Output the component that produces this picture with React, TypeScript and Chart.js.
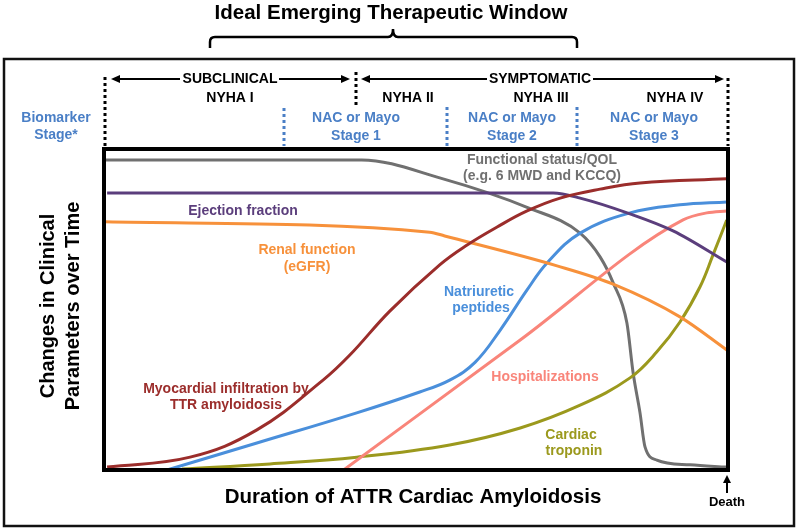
import React, { useEffect, useRef } from "react";
import { Chart, registerables } from "chart.js";

Chart.register(...registerables);

// ---- Data (x: disease duration 0-100, y: relative level 0-100) ----
const functionalX = [0, 41.3, 53.8, 68.1, 76.3, 79.5, 81.6, 83.8, 84.8, 85.9, 86.7, 88.6, 93.9, 99.8];
const functionalY = [96.6, 96.6, 91.0, 81.6, 73.8, 66.4, 58.3, 45.8, 30.2, 17.8, 7.2, 3.1, 1.6, 0.9];

const ejectionX = [0.5, 72.0, 76.3, 84.3, 91.2, 99.8];
const ejectionY = [86.3, 86.3, 84.7, 79.8, 74.5, 64.8];

const renalX = [0.2, 52.2, 54.6, 72.6, 81.6, 92.3, 99.8];
const renalY = [77.3, 74.1, 72.9, 63.6, 57.9, 47.7, 37.4];

const myocardialX = [0.5, 13.8, 24.5, 35.1, 39.4, 45.8, 53.8, 58.2, 63.0, 67.8, 73.1, 79.5, 85.9, 99.8];
const myocardialY = [0.9, 4.0, 12.5, 28.0, 35.8, 49.5, 63.9, 70.1, 75.7, 80.7, 84.7, 87.5, 89.4, 90.7];

const natriureticX = [10.1, 24.5, 40.5, 50.6, 55.4, 59.5, 63.5, 67.8, 71.0, 76.3, 84.3, 92.3, 99.8];
const natriureticY = [0, 8.4, 17.8, 24.3, 28.0, 33.6, 43.6, 56.1, 64.5, 73.8, 80.1, 82.6, 83.5];

const hospitalX = [38.4, 66.7, 92.8, 96.6, 99.8];
const hospitalY = [0, 40.5, 77.9, 80.1, 80.7];

const troponinX = [12.5, 26.6, 40.5, 55.4, 66.7, 76.3, 84.3, 88.6, 92.3, 95.5, 97.6, 99.8];
const troponinY = [0.3, 1.9, 4.0, 7.8, 13.1, 20.2, 28.7, 36.8, 46.1, 57.0, 67.0, 77.9];

const seriesNames = [
  "Functional status/QOL",
  "Ejection fraction",
  "Renal function (eGFR)",
  "Myocardial infiltration by TTR amyloidosis",
  "Natriuretic peptides",
  "Hospitalizations",
  "Cardiac troponin",
];

const COLORS = {
  gray: "#707070",
  purple: "#5b3e7c",
  orange: "#f7913b",
  red: "#9b2d2b",
  blue: "#4a8fdb",
  salmon: "#f9857a",
  olive: "#9b991d",
  stage: "#4a7fc6",
};

const zip = (xs: number[], ys: number[]) => xs.map((x, i) => ({ x, y: ys[i] }));

const FONT = (size: number) => `bold ${size}px "Liberation Sans", Arial, sans-serif`;

const annotationPlugin = {
  id: "annotations",
  afterDraw(chart: any) {
    const ctx: CanvasRenderingContext2D = chart.ctx;
    const a = chart.chartArea;
    ctx.save();

    const text = (s: string, x: number, y: number, size: number, color: string) => {
      ctx.font = FONT(size);
      ctx.fillStyle = color;
      ctx.textAlign = "center";
      ctx.textBaseline = "middle";
      ctx.fillText(s, x, y);
    };

    // outer frame
    ctx.setLineDash([]);
    ctx.strokeStyle = "#111";
    ctx.lineWidth = 2.5;
    ctx.strokeRect(4, 59, 790, 467);

    // plot frame
    ctx.lineWidth = 4;
    ctx.strokeStyle = "#000";
    ctx.strokeRect(a.left, a.top, a.right - a.left, a.bottom - a.top);

    // title
    text("Ideal Emerging Therapeutic Window", 391, 13, 20.5, "#000");

    // brace
    ctx.lineWidth = 2.5;
    ctx.beginPath();
    ctx.moveTo(210, 48);
    ctx.lineTo(210, 42);
    ctx.quadraticCurveTo(210, 37, 215, 37);
    ctx.lineTo(388, 37);
    ctx.quadraticCurveTo(393, 37, 393, 29);
    ctx.quadraticCurveTo(393, 37, 398, 37);
    ctx.lineTo(572, 37);
    ctx.quadraticCurveTo(577, 37, 577, 42);
    ctx.lineTo(577, 48);
    ctx.stroke();

    // dotted separators
    const dotted = (x: number, y1: number, y2: number, color: string) => {
      ctx.strokeStyle = color;
      ctx.lineWidth = 3;
      ctx.setLineDash([3, 3]);
      ctx.beginPath();
      ctx.moveTo(x, y1);
      ctx.lineTo(x, y2);
      ctx.stroke();
      ctx.setLineDash([]);
    };
    dotted(105, 77, 146, "#000");
    dotted(356, 72, 108, "#000");
    dotted(728, 78, 146, "#000");
    dotted(284, 108, 146, COLORS.stage);
    dotted(447, 107, 146, COLORS.stage);
    dotted(577, 107, 146, COLORS.stage);

    // arrows
    const arrowLine = (x1: number, x2: number, y: number, headLeft: boolean, headRight: boolean) => {
      ctx.strokeStyle = "#000";
      ctx.fillStyle = "#000";
      ctx.lineWidth = 2;
      ctx.beginPath();
      ctx.moveTo(x1 + (headLeft ? 6 : 0), y);
      ctx.lineTo(x2 - (headRight ? 6 : 0), y);
      ctx.stroke();
      if (headLeft) {
        ctx.beginPath();
        ctx.moveTo(x1, y);
        ctx.lineTo(x1 + 9, y - 4);
        ctx.lineTo(x1 + 9, y + 4);
        ctx.closePath();
        ctx.fill();
      }
      if (headRight) {
        ctx.beginPath();
        ctx.moveTo(x2, y);
        ctx.lineTo(x2 - 9, y - 4);
        ctx.lineTo(x2 - 9, y + 4);
        ctx.closePath();
        ctx.fill();
      }
    };
    arrowLine(111, 180, 79, true, false);
    arrowLine(279, 350, 79, false, true);
    arrowLine(361, 487, 79, true, false);
    arrowLine(593, 724, 79, false, true);
    text("SUBCLINICAL", 230, 79, 14, "#000");
    text("SYMPTOMATIC", 540, 79, 14, "#000");

    text("NYHA I", 230, 98, 14, "#000");
    text("NYHA II", 408, 98, 14, "#000");
    text("NYHA III", 541, 98, 14, "#000");
    text("NYHA IV", 675, 98, 14, "#000");

    text("Biomarker", 56, 118, 14, COLORS.stage);
    text("Stage*", 56, 135, 14, COLORS.stage);
    text("NAC or Mayo", 356, 118, 14, COLORS.stage);
    text("Stage 1", 356, 136, 14, COLORS.stage);
    text("NAC or Mayo", 512, 118, 14, COLORS.stage);
    text("Stage 2", 512, 136, 14, COLORS.stage);
    text("NAC or Mayo", 654, 118, 14, COLORS.stage);
    text("Stage 3", 654, 136, 14, COLORS.stage);

    // curve labels
    text("Functional status/QOL", 542, 160, 14, COLORS.gray);
    text("(e.g. 6 MWD and KCCQ)", 542, 176, 14, COLORS.gray);
    text("Ejection fraction", 243, 211, 14, COLORS.purple);
    text("Renal function", 307, 250, 14, COLORS.orange);
    text("(eGFR)", 307, 267, 14, COLORS.orange);
    text("Natriuretic", 479, 292, 14, COLORS.blue);
    text("peptides", 481, 308, 14, COLORS.blue);
    text("Myocardial infiltration by", 226, 389, 14, COLORS.red);
    text("TTR amyloidosis", 226, 405, 14, COLORS.red);
    text("Hospitalizations", 545, 377, 14, COLORS.salmon);
    text("Cardiac", 571, 435, 14, COLORS.olive);
    text("troponin", 574, 451, 14, COLORS.olive);

    // axis titles
    text("Duration of ATTR Cardiac Amyloidosis", 413, 497, 20.5, "#000");
    ctx.save();
    ctx.translate(48, 306);
    ctx.rotate(-Math.PI / 2);
    text("Changes in Clinical", 0, 0, 20, "#000");
    ctx.restore();
    ctx.save();
    ctx.translate(73, 306);
    ctx.rotate(-Math.PI / 2);
    text("Parameters over Time", 0, 0, 20, "#000");
    ctx.restore();

    // death marker
    ctx.strokeStyle = "#000";
    ctx.fillStyle = "#000";
    ctx.lineWidth = 2;
    ctx.beginPath();
    ctx.moveTo(727, 493);
    ctx.lineTo(727, 481);
    ctx.stroke();
    ctx.beginPath();
    ctx.moveTo(727, 475);
    ctx.lineTo(723, 483);
    ctx.lineTo(731, 483);
    ctx.closePath();
    ctx.fill();
    text("Death", 727, 502, 13, "#000");

    ctx.restore();
  },
};

export default function App() {
  const ref = useRef<HTMLCanvasElement | null>(null);

  useEffect(() => {
    if (!ref.current) return;
    const mk = (label: string, xs: number[], ys: number[], color: string, smooth: boolean) => ({
      label,
      data: zip(xs, ys),
      borderColor: color,
      backgroundColor: color,
      borderWidth: 3,
      pointRadius: 0,
      fill: false,
      tension: smooth ? 0.4 : 0,
      cubicInterpolationMode: smooth ? ("default" as const) : ("monotone" as const),
    });
    const chart = new Chart(ref.current, {
      type: "line",
      data: {
        datasets: [
          mk(seriesNames[3], myocardialX, myocardialY, COLORS.red, true),
          mk(seriesNames[1], ejectionX, ejectionY, COLORS.purple, false),
          mk(seriesNames[2], renalX, renalY, COLORS.orange, false),
          mk(seriesNames[4], natriureticX, natriureticY, COLORS.blue, true),
          mk(seriesNames[5], hospitalX, hospitalY, COLORS.salmon, false),
          mk(seriesNames[6], troponinX, troponinY, COLORS.olive, true),
          mk(seriesNames[0], functionalX, functionalY, COLORS.gray, false),
        ],
      },
      options: {
        responsive: false,
        animation: false,
        devicePixelRatio: 1,
        layout: { padding: { left: 104, right: 72, top: 149, bottom: 59 } },
        plugins: { legend: { display: false }, tooltip: { enabled: false }, title: { display: false } },
        scales: {
          x: { type: "linear", min: 0, max: 100, display: false },
          y: { type: "linear", min: 0, max: 100, display: false },
        },
      },
      plugins: [annotationPlugin],
    });
    return () => chart.destroy();
  }, []);

  return (
    <div style={{ position: "fixed", left: 0, top: 0, width: 800, height: 529, background: "#fff" }}>
      <canvas ref={ref} width={800} height={529} style={{ width: 800, height: 529 }} />
    </div>
  );
}
